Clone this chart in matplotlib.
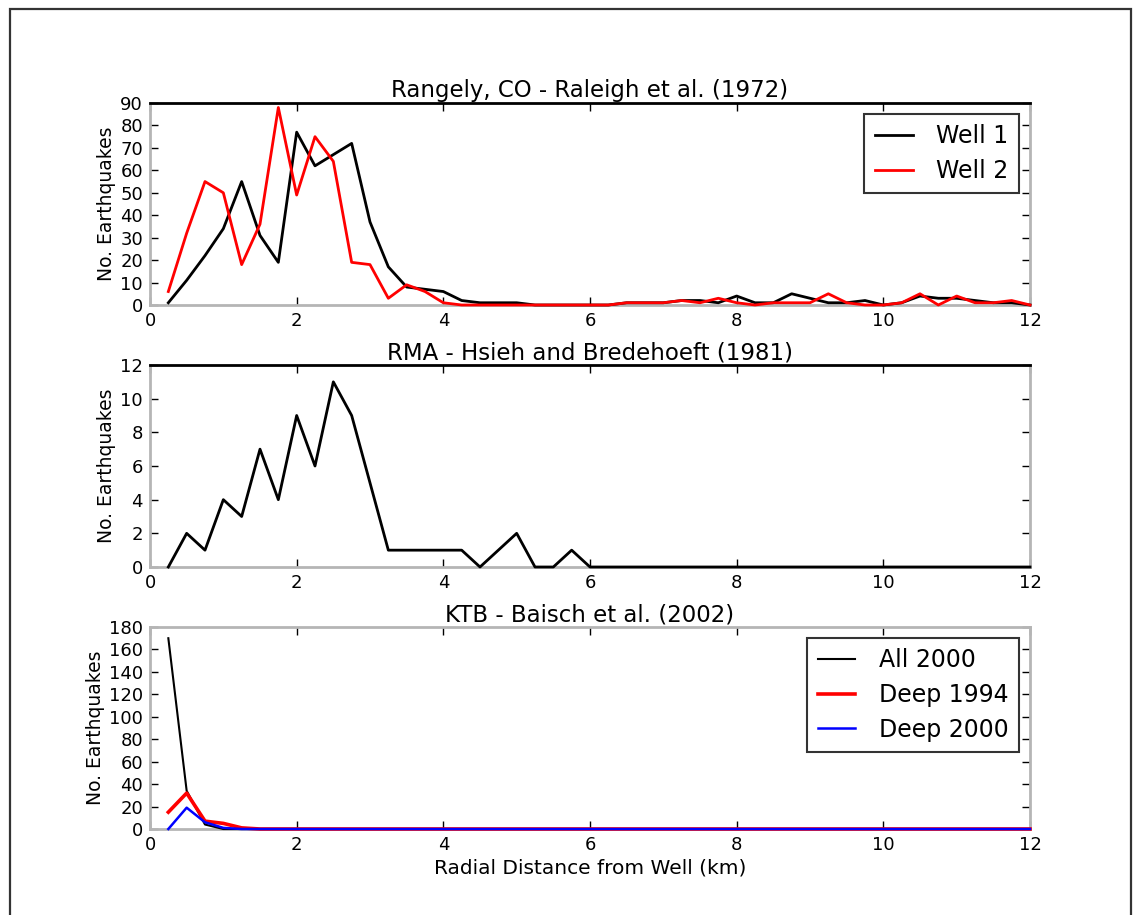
import numpy as np
import matplotlib
matplotlib.use("Agg")
import matplotlib.pyplot as plt
from matplotlib.patches import Rectangle

# bin centres (km), one value every 0.25 km out to 12 km
distance_km = np.arange(1, 49) * 0.25

# Rangely, CO
well_1 = [1, 11, 22, 34, 55, 31, 19, 77, 62, 67, 72, 37, 17, 8, 7, 6, 2, 1, 1, 1, 0, 0, 0, 0,
          0, 1, 1, 1, 2, 2, 1, 4, 1, 1, 5, 3, 1, 1, 2, 0, 1, 4, 3, 3, 2, 1, 1, 0]
well_2 = [6, 32, 55, 50, 18, 36, 88, 49, 75, 64, 19, 18, 3, 9, 6, 1,
          0, 0, 0, 0, 0, 0, 0, 0, 0, 1, 1, 1, 2, 1, 3, 1,
          0, 1, 1, 1, 5, 1, 0, 0, 1, 5, 0, 4, 1, 1, 2, 0]

# RMA
rma = [0, 2, 1, 4, 3, 7, 4, 9, 6, 11, 9, 5, 1, 1, 1, 1, 1, 0, 1, 2, 0, 0, 1, 0] + [0] * 24

# KTB
all_2000 = [170, 34, 4, 0] + [0] * 44
deep_1994 = [15, 32, 7, 5, 1] + [0] * 43
deep_2000 = [0, 19, 6, 1] + [0] * 44

titles = ["Rangely, CO - Raleigh et al. (1972)",
          "RMA - Hsieh and Bredehoeft (1981)",
          "KTB - Baisch et al. (2002)"]
y_max = [90, 12, 180]
y_step = [10, 2, 20]

fig = plt.figure(figsize=(11.34, 9.15), dpi=100)
fig.patch.set_facecolor("white")

# frame around the figure (top, left, right visible)
fig.patches.append(Rectangle((10 / 1134, -0.05), 1121 / 1134, 1.05 - 9 / 915,
                             transform=fig.transFigure, fill=False,
                             edgecolor="#333333", linewidth=1.6))

left, width, height = 150 / 1134, 880 / 1134, 202 / 915
bottoms = [1 - 305 / 915, 1 - 567 / 915, 1 - 829 / 915]
axes = [fig.add_axes([left, b, width, height]) for b in bottoms]

ax1, ax2, ax3 = axes
line_kw = dict(clip_on=False, zorder=3)
ax1.plot(distance_km, well_1, color="black", lw=2.0, label="Well 1", **line_kw)
ax1.plot(distance_km, well_2, color="red", lw=2.0, label="Well 2", **line_kw)

ax2.plot(distance_km, rma, color="black", lw=2.0, **line_kw)

ax3.plot(distance_km, all_2000, color="black", lw=1.5, label="All 2000", **line_kw)
ax3.plot(distance_km, deep_1994, color="red", lw=2.6, label="Deep 1994", **line_kw)
ax3.plot(distance_km, deep_2000, color="blue", lw=1.8, label="Deep 2000", **line_kw)

for i, ax in enumerate(axes):
    ax.set_xlim(0, 12)
    ax.set_ylim(0, y_max[i])
    ax.set_xticks(np.arange(0, 13, 2))
    ax.set_yticks(np.arange(0, y_max[i] + 1, y_step[i]))
    ax.tick_params(direction="in", top=True, right=True, length=6, width=1,
                   labelsize=13, pad=5)
    ax.set_title(titles[i], fontsize=16.5, pad=4)
    ax.set_ylabel("No. Earthquakes", fontsize=13.5, labelpad=3)
    for side in ["left", "right", "bottom", "top"]:
        ax.spines[side].set_color("#b5b5b5")
        ax.spines[side].set_linewidth(2)
    if i < 2:
        ax.spines["top"].set_color("black")

ax3.set_xlabel("Radial Distance from Well (km)", fontsize=14.5, labelpad=3)

for ax in (ax1, ax3):
    leg = ax.legend(loc="upper right", fontsize=17, handlelength=1.6,
                    handletextpad=1.0, borderpad=0.45, labelspacing=0.45,
                    borderaxespad=0.45, fancybox=False)
    leg.get_frame().set_edgecolor("black")
    leg.get_frame().set_linewidth(1.5)
    leg.set_zorder(5)

fig.savefig("out.png", dpi=100)
